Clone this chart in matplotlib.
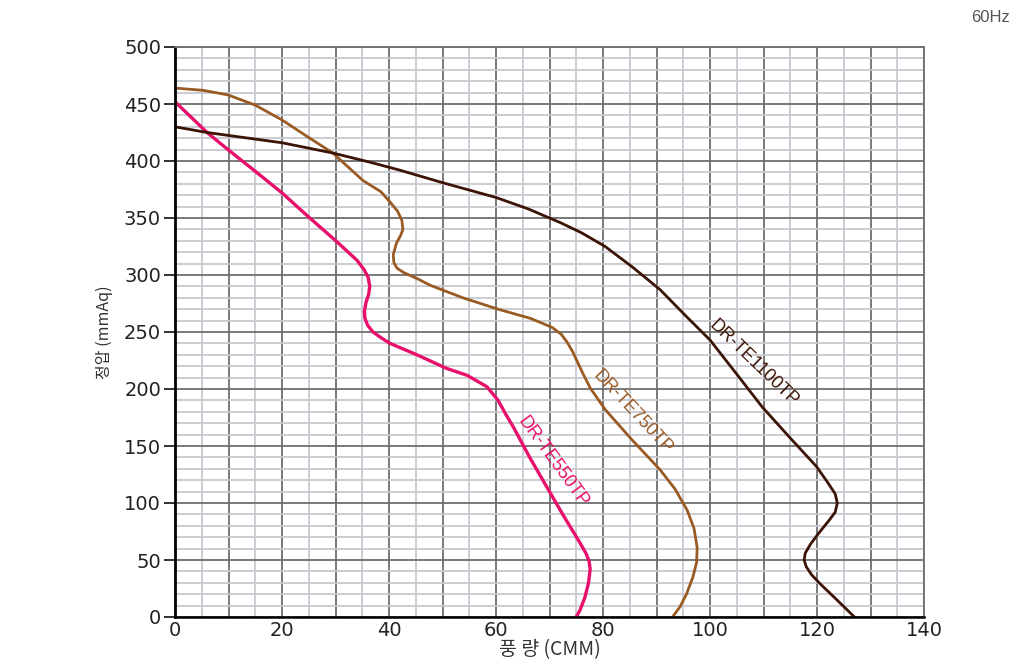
import matplotlib
matplotlib.use("Agg")
import matplotlib.pyplot as plt
from matplotlib.ticker import MultipleLocator, FuncFormatter

plt.rcParams['font.family'] = ['DejaVu Sans', 'Noto Sans CJK KR']

# curve points (flow CMM, static pressure mmAq)
te550_q = [0, 6, 9.9, 15, 20, 25.2, 30.3, 34, 35.3, 36.1, 36.4, 36.2, 35.7, 35.4, 35.5,
           36.0, 37, 38.5, 40.2, 45.2, 50.8, 54.6, 58.3, 60.4, 61.8, 63.2, 66.3, 69.5,
           72.6, 75.7, 76.8, 77.4, 77.6, 77.3, 76.6, 75.7, 75]
te550_p = [452, 425, 410, 391, 372, 350, 329, 313, 305, 298, 290, 283, 276, 268, 262,
           256, 250, 245, 240, 230, 218, 212, 202, 190, 178, 167, 140, 114,
           89, 65, 56, 49, 42, 30, 17, 6, 0]

te750_q = [0, 5.2, 9.9, 15, 20, 25.2, 29.5, 35.1, 38.5, 40.2, 41.6, 42.4, 42.6, 42.2,
           41.4, 40.8, 40.9, 41.5, 42.8, 45.2, 47.7, 53.8, 60.4, 66.4, 69, 70.5, 72.2,
           73.3, 74.3, 75.1, 76.3, 77.6, 80.4, 85.5, 90.7, 93.5, 95.7, 97, 97.6, 97.5,
           96.8, 95.6, 94.4, 93]
te750_p = [464, 462, 458, 449, 436, 420, 407, 383, 373, 364, 356, 348, 340, 335,
           328, 318, 311, 306, 302, 297, 291, 280, 270, 262, 257, 254, 248,
           241, 233, 225, 213, 201, 182, 155, 129, 112, 94, 78, 61, 48,
           35, 20, 9, 0]

te1100_q = [0, 6, 20, 29.5, 36.4, 42, 50, 60, 66, 72, 76, 80.4, 85.5, 90.7, 95.5,
            100, 105, 109.8, 115, 119.9, 122, 123.4, 123.8, 123.4, 122.3, 120.4, 118.8,
            117.8, 117.6, 118.0, 119, 120.4, 123.5, 127]
te1100_p = [430, 425, 416, 407, 399, 392, 381, 368, 358, 346, 337, 325, 307, 287, 264,
            243, 213, 184, 157, 132, 118, 108, 100, 92, 85, 74, 64,
            56, 50, 44, 37, 30, 16, 0]

series_names = ['DR-TE550TP', 'DR-TE750TP', 'DR-TE1100TP']
series_colors = ['#e8106a', '#9a5a24', '#3c1406']

fig = plt.figure(figsize=(10.24, 6.6), dpi=100)
ax = fig.add_axes([175 / 1024, 43 / 660, 749 / 1024, 570 / 660])

ax.set_xlim(0, 140)
ax.set_ylim(0, 500)
ax.xaxis.set_major_locator(MultipleLocator(10))
ax.xaxis.set_minor_locator(MultipleLocator(5))
ax.yaxis.set_major_locator(MultipleLocator(50))
ax.yaxis.set_minor_locator(MultipleLocator(10))
ax.xaxis.set_major_formatter(FuncFormatter(lambda v, p: '%d' % v if round(v) % 20 == 0 else ''))

ax.grid(which='major', color='#6e6e6e', lw=1.3)
ax.grid(which='minor', color='#c8c8d0', lw=1.3)
ax.set_axisbelow(True)

ax.tick_params(axis='x', which='both', length=0, labelsize=14, pad=3, colors='#222222')
ax.tick_params(axis='y', which='major', length=8, width=1.3, direction='out',
               labelsize=14, pad=2, colors='#222222')
ax.tick_params(axis='y', which='minor', length=0)

for s in ['top', 'right']:
    ax.spines[s].set_color('#6e6e6e')
    ax.spines[s].set_linewidth(1.3)
ax.spines['left'].set_linewidth(2)
ax.spines['bottom'].set_linewidth(1.8)

ax.plot(te550_q, te550_p, color=series_colors[0], lw=2.4, solid_joinstyle='round')
ax.plot(te750_q, te750_p, color=series_colors[1], lw=2.0, solid_joinstyle='round')
ax.plot(te1100_q, te1100_p, color=series_colors[2], lw=2.0, solid_joinstyle='round')

lab_font = ['Liberation Sans', 'DejaVu Sans']
ax.text(70.6, 136, series_names[0], color=series_colors[0], rotation=-54,
        ha='center', va='center', fontsize=13, family=lab_font, rotation_mode='anchor')
ax.text(85.6, 180, series_names[1], color=series_colors[1], rotation=-47,
        ha='center', va='center', fontsize=13, family=lab_font, rotation_mode='anchor')
ax.text(108.2, 223, series_names[2], color=series_colors[2], rotation=-44,
        ha='center', va='center', fontsize=13, family=lab_font, rotation_mode='anchor')

ax.set_xlabel('풍 량 (CMM)', fontsize=14, family=['Noto Sans CJK KR', 'DejaVu Sans'],
              color='#333333', labelpad=-1)
ax.set_ylabel('정압 (mmAq)', fontsize=11.5, family=['Noto Sans CJK KR', 'DejaVu Sans'],
              color='#333333', labelpad=8)

fig.text(990 / 1024, 1 - 18 / 660, '60Hz', ha='center', va='center', fontsize=12,
         color='#555555', family=lab_font)

fig.savefig('out.png', dpi=100)
